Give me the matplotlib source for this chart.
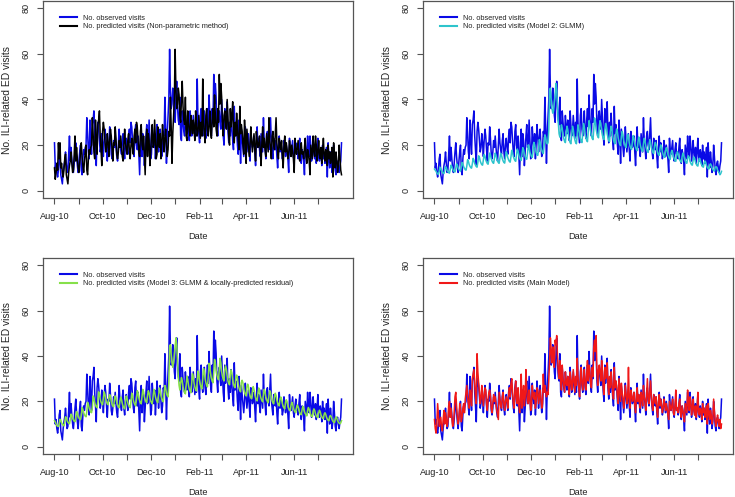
import numpy as np
import pandas as pd
import matplotlib
matplotlib.use("Agg")
import matplotlib.pyplot as plt
import matplotlib.dates as mdates
from matplotlib.ticker import FixedLocator

plt.rcParams['font.family'] = ['Liberation Sans', 'DejaVu Sans']

# daily series, 1 Aug 2010 .. 31 Jul 2011 (one row = one week, Sunday first)
observed = [
    21, 10, 12, 8, 6, 9, 14,
    16, 7, 5, 3, 8, 11, 13,
    17, 12, 8, 9, 16, 24, 13,
    19, 14, 10, 8, 12, 17, 21,
    15, 11, 8, 13, 17, 20, 9,
    7, 14, 18, 16, 19, 20, 32,
    25, 17, 14, 31, 22, 16, 29,
    31, 35, 24, 18, 11, 26, 30,
    27, 22, 17, 19, 25, 21, 15,
    22, 27, 24, 18, 13, 21, 20,
    28, 23, 16, 14, 17, 22, 19,
    24, 19, 15, 13, 20, 27, 21,
    18, 16, 22, 25, 17, 14, 20,
    23, 19, 16, 24, 27, 21, 30,
    28, 22, 17, 15, 26, 29, 20,
    18, 24, 16, 7, 21, 27, 15,
    25, 22, 11, 17, 24, 29, 19,
    20, 31, 23, 14, 16, 28, 22,
    19, 25, 14, 21, 29, 24, 17,
    23, 27, 20, 15, 18, 26, 24,
    41, 28, 12, 25, 33, 40, 62,
    44, 36, 38, 45, 42, 33, 30,
    40, 48, 37, 31, 29, 41, 24,
    22, 35, 30, 26, 24, 33, 28,
    25, 31, 27, 22, 35, 29, 24,
    26, 33, 28, 23, 30, 24, 49,
    30, 25, 21, 33, 36, 27, 24,
    29, 35, 26, 23, 31, 36, 28,
    42, 33, 27, 24, 36, 30, 51,
    38, 47, 41, 29, 24, 33, 35,
    30, 27, 40, 32, 24, 20, 36,
    28, 33, 39, 26, 21, 30, 24,
    34, 27, 22, 18, 37, 25, 29,
    26, 20, 16, 31, 24, 12, 27,
    23, 19, 15, 20, 28, 22, 17,
    21, 25, 18, 13, 26, 22, 19,
    20, 24, 17, 11, 21, 28, 19,
    23, 18, 15, 25, 21, 17, 32,
    22, 19, 14, 24, 26, 20, 18,
    25, 32, 21, 17, 14, 23, 20,
    18, 22, 15, 10, 19, 24, 17,
    21, 18, 14, 16, 22, 19, 15,
    20, 17, 14, 8, 23, 18, 16,
    19, 22, 15, 13, 18, 21, 16,
    17, 14, 19, 23, 15, 12, 18,
    16, 13, 7, 20, 17, 14, 24,
    18, 15, 24, 20, 13, 17, 22,
    16, 14, 19, 12, 17, 23, 15,
    13, 18, 16, 11, 20, 14, 17,
    12, 15, 19, 6, 21, 14, 10,
    17, 13, 8, 11, 20, 15, 9,
    7, 12, 13, 10, 8, 11, 13,
    21,
]

pred_nonparam = [
    10, 5, 8, 12, 9, 21, 14,
    21, 10, 12, 8, 6, 9, 14,
    16, 7, 5, 3, 8, 11, 13,
    17, 12, 8, 9, 16, 24, 13,
    19, 14, 10, 8, 12, 17, 21,
    15, 11, 8, 13, 17, 20, 9,
    7, 14, 18, 16, 19, 20, 32,
    25, 17, 14, 31, 22, 16, 29,
    31, 35, 24, 18, 11, 26, 30,
    27, 22, 17, 19, 25, 21, 15,
    22, 27, 24, 18, 13, 21, 20,
    28, 23, 16, 14, 17, 22, 19,
    24, 19, 15, 13, 20, 27, 21,
    18, 16, 22, 25, 17, 14, 20,
    23, 19, 16, 24, 27, 21, 30,
    28, 22, 17, 15, 26, 29, 20,
    18, 24, 16, 7, 21, 27, 15,
    25, 22, 11, 17, 24, 29, 19,
    20, 31, 23, 14, 16, 28, 22,
    19, 25, 14, 21, 29, 24, 17,
    23, 27, 20, 15, 18, 26, 24,
    41, 28, 12, 25, 33, 40, 62,
    44, 36, 38, 45, 42, 33, 30,
    40, 48, 37, 31, 29, 41, 24,
    22, 35, 30, 26, 24, 33, 28,
    25, 31, 27, 22, 35, 29, 24,
    26, 33, 28, 23, 30, 24, 49,
    30, 25, 21, 33, 36, 27, 24,
    29, 35, 26, 23, 31, 36, 28,
    42, 33, 27, 24, 36, 30, 51,
    38, 47, 41, 29, 24, 33, 35,
    30, 27, 40, 32, 24, 20, 36,
    28, 33, 39, 26, 21, 30, 24,
    34, 27, 22, 18, 37, 25, 29,
    26, 20, 16, 31, 24, 12, 27,
    23, 19, 15, 20, 28, 22, 17,
    21, 25, 18, 13, 26, 22, 19,
    20, 24, 17, 11, 21, 28, 19,
    23, 18, 15, 25, 21, 17, 32,
    22, 19, 14, 24, 26, 20, 18,
    25, 32, 21, 17, 14, 23, 20,
    18, 22, 15, 10, 19, 24, 17,
    21, 18, 14, 16, 22, 19, 15,
    20, 17, 14, 8, 23, 18, 16,
    19, 22, 15, 13, 18, 21, 16,
    17, 14, 19, 23, 15, 12, 18,
    16, 13, 7, 20, 17, 14, 24,
    18, 15, 24, 20, 13, 17, 22,
    16, 14, 19, 12, 17, 23, 15,
    13, 18, 16, 11, 20, 14, 17,
    12, 15, 19, 6, 21, 14, 10,
    17, 13, 8, 11, 20, 15, 9,
    7,
]

pred_glmm = [
    9.5, 9.0, 8.5, 7.8, 7.4, 7.2, 8.6,
    10.3, 9.7, 8.7, 8.1, 7.7, 7.5, 9.0,
    10.6, 10.1, 9.0, 8.4, 7.9, 7.7, 9.3,
    11.2, 10.6, 9.5, 8.8, 8.4, 8.2, 9.8,
    11.8, 11.2, 10.0, 9.3, 8.8, 8.6, 10.3,
    12.4, 11.8, 10.5, 9.8, 9.2, 9.0, 10.8,
    13.6, 12.9, 11.5, 10.7, 10.1, 9.9, 11.8,
    14.2, 13.4, 12.0, 11.2, 10.6, 10.3, 12.4,
    15.3, 14.6, 13.0, 12.1, 11.4, 11.2, 13.4,
    15.9, 15.1, 13.5, 12.6, 11.9, 11.6, 13.9,
    16.5, 15.7, 14.0, 13.0, 12.3, 12.0, 14.4,
    16.5, 15.7, 14.0, 13.0, 12.3, 12.0, 14.4,
    16.4, 15.6, 14.1, 13.1, 12.4, 12.1, 14.5,
    17.1, 16.2, 14.5, 13.5, 12.8, 12.5, 14.9,
    17.7, 16.8, 15.0, 14.0, 13.2, 12.9, 15.5,
    18.3, 17.4, 15.5, 14.4, 13.6, 13.3, 16.0,
    18.9, 17.9, 16.0, 14.9, 14.1, 13.8, 16.5,
    20.1, 19.0, 17.0, 15.8, 15.0, 14.6, 17.5,
    21.2, 20.2, 18.0, 16.7, 15.8, 15.5, 18.5,
    22.4, 21.3, 19.0, 17.7, 16.7, 16.3, 19.6,
    24.5, 23.5, 21.0, 20.5, 21.0, 27.0, 44.0,
    45.0, 40.0, 36.0, 34.0, 35.0, 39.0, 42.0,
    47.0, 44.0, 37.0, 30.0, 25.0, 23.5, 26.0,
    28.9, 27.4, 24.5, 22.8, 21.6, 21.1, 25.2,
    28.3, 26.9, 24.0, 22.3, 21.1, 20.6, 24.7,
    28.3, 26.9, 24.0, 22.3, 21.1, 20.6, 24.7,
    28.9, 27.4, 24.5, 22.8, 21.6, 21.1, 25.2,
    29.5, 28.0, 25.0, 23.3, 22.0, 21.5, 25.8,
    30.7, 29.1, 26.0, 24.2, 22.9, 22.4, 26.8,
    31.9, 30.2, 27.0, 25.1, 23.8, 23.2, 27.8,
    30.7, 29.1, 26.0, 24.2, 22.9, 22.4, 26.8,
    29.5, 28.0, 25.0, 23.3, 22.0, 21.5, 25.8,
    28.3, 26.9, 24.0, 22.3, 21.1, 20.6, 24.7,
    27.1, 25.8, 23.0, 21.4, 20.2, 19.8, 23.7,
    26.0, 24.6, 22.0, 20.5, 19.4, 18.9, 22.7,
    24.8, 23.5, 21.0, 19.5, 18.5, 18.1, 21.6,
    24.2, 23.0, 20.5, 19.1, 18.0, 17.6, 21.1,
    23.6, 22.4, 20.0, 18.6, 17.6, 17.2, 20.6,
    23.0, 21.8, 19.5, 18.1, 17.2, 16.8, 20.1,
    22.4, 21.3, 19.0, 17.7, 16.7, 16.3, 19.6,
    21.2, 20.2, 18.0, 16.7, 15.8, 15.5, 18.5,
    20.1, 19.0, 17.0, 15.8, 15.0, 14.6, 17.5,
    18.9, 17.9, 16.0, 14.9, 14.1, 13.8, 16.5,
    17.7, 16.8, 15.0, 14.0, 13.2, 12.9, 15.5,
    17.1, 16.2, 14.5, 13.5, 12.8, 12.5, 14.9,
    16.5, 15.7, 14.0, 13.0, 12.3, 12.0, 14.4,
    15.3, 14.6, 13.0, 12.1, 11.4, 11.2, 13.4,
    14.8, 14.0, 12.5, 11.6, 11.0, 10.8, 12.9,
    14.2, 13.4, 12.0, 11.2, 10.6, 10.3, 12.4,
    13.0, 12.3, 11.0, 10.2, 9.7, 9.5, 11.3,
    11.8, 11.2, 10.0, 9.3, 8.8, 8.6, 10.3,
    10.6, 10.1, 9.0, 8.4, 7.9, 7.0, 7.5,
    8.5,
]

pred_glmm_resid = [
    11.5, 11.0, 10.0, 9.4, 9.0, 8.9, 10.3,
    12.1, 11.6, 10.5, 9.9, 9.5, 9.2, 10.8,
    13.2, 12.7, 11.5, 10.8, 10.4, 10.1, 11.8,
    14.4, 13.8, 12.5, 11.8, 11.3, 11.0, 12.9,
    15.5, 14.9, 13.5, 12.7, 12.2, 11.9, 13.9,
    17.3, 16.5, 15.0, 14.1, 13.5, 13.2, 15.5,
    19.6, 18.7, 17.0, 16.0, 15.3, 15.0, 17.5,
    22.4, 21.5, 19.5, 18.3, 17.6, 17.2, 20.1,
    24.2, 23.1, 21.0, 19.7, 18.9, 18.5, 21.6,
    24.2, 23.1, 21.0, 19.7, 18.9, 18.5, 21.6,
    23.0, 22.0, 20.0, 18.8, 18.0, 17.6, 20.6,
    22.4, 21.5, 19.5, 18.3, 17.6, 17.2, 20.1,
    21.9, 20.9, 19.0, 17.9, 17.1, 16.7, 19.6,
    22.4, 21.5, 19.5, 18.3, 17.6, 17.2, 20.1,
    23.6, 22.6, 20.5, 19.3, 18.5, 18.0, 21.1,
    24.7, 23.7, 21.5, 20.2, 19.4, 18.9, 22.1,
    25.3, 24.2, 22.0, 20.7, 19.8, 19.4, 22.7,
    24.7, 23.7, 21.5, 20.2, 19.4, 18.9, 22.1,
    25.3, 24.2, 22.0, 20.7, 19.8, 19.4, 22.7,
    25.9, 24.8, 22.5, 21.2, 20.3, 19.8, 23.2,
    27.0, 26.0, 23.5, 22.5, 22.0, 28.0, 44.0,
    45.0, 41.0, 37.0, 35.0, 37.0, 41.0, 44.0,
    48.0, 45.0, 38.0, 31.0, 27.0, 25.0, 28.0,
    30.5, 29.2, 26.5, 24.9, 23.9, 23.3, 27.3,
    31.1, 29.7, 27.0, 25.4, 24.3, 23.8, 27.8,
    32.2, 30.8, 28.0, 26.3, 25.2, 24.6, 28.8,
    33.4, 31.9, 29.0, 27.3, 26.1, 25.5, 29.9,
    34.5, 33.0, 30.0, 28.2, 27.0, 26.4, 30.9,
    36.8, 35.2, 32.0, 30.1, 28.8, 28.2, 33.0,
    38.5, 36.9, 33.5, 31.5, 30.2, 29.5, 34.5,
    39.0, 37.0, 33.0, 31.0, 29.7, 29.0, 34.0,
    35.7, 34.1, 31.0, 29.1, 27.9, 27.3, 31.9,
    33.9, 32.5, 29.5, 27.7, 26.6, 26.0, 30.4,
    31.6, 30.3, 27.5, 25.9, 24.8, 24.2, 28.3,
    29.3, 28.1, 25.5, 24.0, 23.0, 22.4, 26.3,
    27.6, 26.4, 24.0, 22.6, 21.6, 21.1, 24.7,
    26.5, 25.3, 23.0, 21.6, 20.7, 20.2, 23.7,
    25.9, 24.8, 22.5, 21.2, 20.3, 19.8, 23.2,
    25.3, 24.2, 22.0, 20.7, 19.8, 19.4, 22.7,
    24.7, 23.7, 21.5, 20.2, 19.4, 18.9, 22.1,
    23.6, 22.6, 20.5, 19.3, 18.5, 18.0, 21.1,
    21.9, 20.9, 19.0, 17.9, 17.1, 16.7, 19.6,
    20.7, 19.8, 18.0, 16.9, 16.2, 15.8, 18.5,
    19.6, 18.7, 17.0, 16.0, 15.3, 15.0, 17.5,
    18.4, 17.6, 16.0, 15.0, 14.4, 14.1, 16.5,
    17.8, 17.1, 15.5, 14.6, 14.0, 13.6, 16.0,
    17.3, 16.5, 15.0, 14.1, 13.5, 13.2, 15.5,
    16.7, 16.0, 14.5, 13.6, 13.1, 12.8, 14.9,
    16.1, 15.4, 14.0, 13.2, 12.6, 12.3, 14.4,
    15.0, 14.3, 13.0, 12.2, 11.7, 11.4, 13.4,
    13.8, 13.2, 12.0, 11.3, 10.8, 10.6, 12.4,
    13.2, 12.7, 11.5, 10.8, 10.4, 10.1, 10.5,
    11.5,
]

pred_main = [
    12, 8, 6, 10, 19, 14, 9,
    11, 13, 8, 7, 12, 16, 10,
    15, 12, 9, 11, 18, 20, 13,
    17, 13, 9, 10, 15, 22, 24,
    18, 13, 10, 12, 19, 17, 11,
    13, 17, 19, 15, 21, 24, 27,
    22, 19, 17, 25, 23, 18, 30,
    32, 34, 28, 22, 19, 41, 33,
    28, 24, 19, 21, 27, 23, 18,
    22, 26, 25, 19, 16, 21, 24,
    25, 22, 17, 15, 19, 23, 20,
    22, 19, 16, 14, 12, 24, 21,
    18, 17, 22, 24, 19, 16, 20,
    22, 20, 17, 23, 26, 22, 28,
    30, 24, 19, 17, 25, 29, 21,
    19, 26, 18, 15, 22, 32, 17,
    23, 27, 18, 22, 34, 25, 20,
    19, 25, 22, 16, 18, 27, 23,
    21, 24, 17, 20, 26, 25, 19,
    22, 25, 21, 17, 19, 32, 24,
    27, 25, 22, 24, 23, 30, 38,
    48, 42, 37, 44, 40, 35, 47,
    45, 49, 40, 33, 30, 38, 29,
    25, 36, 30, 27, 24, 33, 28,
    27, 31, 26, 23, 33, 30, 25,
    28, 34, 29, 24, 31, 27, 39,
    31, 26, 22, 30, 35, 28, 25,
    30, 34, 27, 25, 32, 38, 29,
    36, 33, 28, 26, 35, 31, 44,
    47, 42, 49, 33, 27, 34, 36,
    32, 29, 38, 33, 26, 23, 35,
    30, 33, 37, 27, 23, 31, 26,
    33, 28, 24, 21, 35, 26, 29,
    27, 22, 19, 30, 25, 20, 28,
    24, 21, 17, 22, 27, 23, 19,
    22, 35, 20, 17, 25, 23, 20,
    21, 24, 18, 15, 22, 26, 20,
    23, 19, 17, 24, 22, 18, 27,
    22, 20, 16, 23, 30, 21, 19,
    24, 29, 22, 18, 16, 23, 21,
    19, 22, 16, 13, 20, 23, 18,
    21, 18, 15, 17, 21, 19, 16,
    19, 17, 14, 12, 20, 18, 16,
    18, 21, 15, 14, 18, 25, 16,
    17, 15, 19, 21, 15, 13, 18,
    16, 14, 11, 19, 17, 15, 25,
    19, 16, 22, 20, 14, 17, 21,
    16, 14, 18, 13, 17, 24, 15,
    14, 17, 16, 12, 19, 15, 17,
    13, 15, 18, 10, 19, 15, 12,
    16, 14, 10, 12, 21, 16, 11,
    9, 12, 14, 11, 9, 12, 8,
    10,
]

dates = pd.date_range("2010-08-01", periods=len(observed), freq="D")
month_ticks = pd.date_range("2010-08-01", "2011-07-01", freq="MS")
label_months = pd.date_range("2010-08-01", "2011-06-01", freq="2MS")
month_labels = [d.strftime("%b-%y") for d in label_months]

panels = [
    (pred_nonparam, "#000000", "No. predicted visits (Non-parametric method)"),
    (pred_glmm, "#2EC4CC", "No. predicted visits (Model 2: GLMM)"),
    (pred_glmm_resid, "#86E04A", "No. predicted visits (Model 3: GLMM & locally-predicted residual)"),
    (pred_main, "#F01818", "No. predicted visits (Main Model)"),
]

# axes boxes in pixels: left, top, right, bottom
boxes = [(43, 1, 353, 198), (423, 1, 733, 198), (43, 258, 353, 454), (423, 258, 733, 454)]

W, H = 735, 497
fig = plt.figure(figsize=(W / 100, H / 100), dpi=100)
grey = "#555555"
txt = "#222222"

for (pred, col, lab), (l, t, r, b) in zip(panels, boxes):
    ax = fig.add_axes([l / W, 1 - b / H, (r - l) / W, (b - t) / H])
    ax.plot(dates, observed, color="#0A0AE6", lw=1.1, label="No. observed visits")
    ax.plot(dates, pred, color=col, lw=1.1, label=lab)

    span = dates[-1] - dates[0]
    ax.set_xlim(dates[0] - span * 0.04, dates[-1] + span * 0.04)
    ax.set_ylim(-3.2, 83.2)

    ax.xaxis.set_major_locator(FixedLocator(mdates.date2num(label_months)))
    ax.set_xticklabels(month_labels)
    ax.xaxis.set_minor_locator(FixedLocator(mdates.date2num(month_ticks)))
    ax.set_yticks([0, 20, 40, 60, 80])
    ax.set_yticklabels(["0", "20", "40", "60", "80"], rotation=90, va="center")

    for sp in ax.spines.values():
        sp.set_visible(True)
        sp.set_color(grey)
        sp.set_linewidth(0.9)
    ax.tick_params(which="both", length=4, width=0.8, color=grey, labelcolor=txt,
                   labelsize=6.6, pad=6)
    ax.tick_params(axis="y", pad=5)

    ax.set_xlabel("Date", fontsize=6.6, color=txt, labelpad=8)
    ax.set_ylabel("No. ILI-related ED visits", fontsize=7.4, color=txt, labelpad=7)

    leg = ax.legend(loc="upper left", bbox_to_anchor=(0.045, 0.945), frameon=False,
                    fontsize=5.3, handlelength=2.3, handletextpad=0.9,
                    labelspacing=0.15, borderaxespad=0)
    for ln in leg.get_lines():
        ln.set_linewidth(1.5)
    for tx in leg.get_texts():
        tx.set_color(txt)

fig.savefig("out.png", dpi=100)
